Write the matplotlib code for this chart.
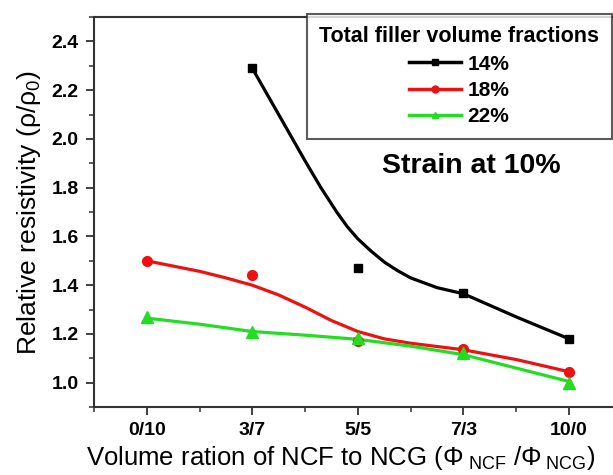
import matplotlib
matplotlib.use("Agg")
import matplotlib.pyplot as plt
from matplotlib.lines import Line2D
from matplotlib.ticker import MultipleLocator

plt.rcParams['font.family'] = ['Liberation Sans', 'DejaVu Sans']
plt.rcParams['mathtext.fontset'] = 'custom'
plt.rcParams['mathtext.rm'] = 'Liberation Sans'
plt.rcParams['mathtext.it'] = 'Liberation Sans:italic'
plt.rcParams['mathtext.bf'] = 'Liberation Sans:bold'

# categories (NCF/NCG volume ratio)
ratios = ['0/10', '3/7', '5/5', '7/3', '10/0']
pos = [0, 1, 2, 3, 4]

# measured points
pts_14 = [None, 2.29, 1.47, 1.37, 1.18]
pts_18 = [1.50, 1.44, 1.17, 1.14, 1.045]
pts_22 = [1.27, 1.21, 1.185, 1.12, 1.0]

# fitted curves
fit_x_14 = [1.0, 1.25, 1.5, 1.65, 1.8, 1.9, 2.0, 2.125, 2.25, 2.375, 2.5, 2.75, 3.0, 3.5, 4.0]
fit_y_14 = [2.29, 2.10, 1.91, 1.80, 1.70, 1.64, 1.59, 1.54, 1.495, 1.46, 1.43, 1.39, 1.365, 1.27, 1.18]
fit_x_18 = [0, 0.5, 0.75, 1.0, 1.25, 1.5, 1.75, 2.0, 2.25, 2.5, 3.0, 3.5, 4.0]
fit_y_18 = [1.50, 1.457, 1.43, 1.40, 1.36, 1.31, 1.255, 1.21, 1.18, 1.162, 1.135, 1.095, 1.045]
fit_x_22 = [0, 0.5, 1.0, 1.5, 2.0, 2.5, 3.0, 3.5, 4.0]
fit_y_22 = [1.265, 1.24, 1.21, 1.195, 1.178, 1.15, 1.115, 1.06, 1.005]

labels = ['14%', '18%', '22%']
colors = ['black', '#ee1111', '#22dd22']
markers = ['s', 'o', '^']

fig = plt.figure(figsize=(6.13, 4.75), dpi=100)
ax = fig.add_axes([0.1533, 0.143, 0.861, 0.821])

fits = [(fit_x_14, fit_y_14), (fit_x_18, fit_y_18), (fit_x_22, fit_y_22)]
pts = [pts_14, pts_18, pts_22]
msizes = [6, 7, 8]
for (fx, fy), p, c, m, ms in zip(fits, pts, colors, markers, msizes):
    ax.plot(fx, fy, color=c, lw=2.3, solid_capstyle='round',
            solid_joinstyle='round', zorder=2)
    xs = [x for x, v in zip(pos, p) if v is not None]
    ys = [v for v in p if v is not None]
    ax.plot(xs, ys, ls='none', marker=m, color=c, ms=ms, zorder=3)

ax.set_xlim(-0.5, 4.5)
ax.set_ylim(0.9, 2.5)
ax.set_xticks(pos)
ax.set_xticklabels(ratios)
ax.xaxis.set_minor_locator(MultipleLocator(0.5))
ax.yaxis.set_major_locator(MultipleLocator(0.2))
ax.yaxis.set_minor_locator(MultipleLocator(0.1))
ax.tick_params(which='major', direction='out', length=6, width=1.3, color='#333333',
               labelsize=14, pad=5)
ax.tick_params(which='minor', direction='out', length=3.5, width=1.1, color='#333333')
for lab in ax.get_xticklabels() + ax.get_yticklabels():
    lab.set_fontweight('bold')
for sp in ax.spines.values():
    sp.set_linewidth(1.5)
    sp.set_color('#333333')

ax.set_ylabel(r'Relative resistivity (ρ/ρ$_{0}$)', fontsize=19, labelpad=6)
ax.set_xlabel(r'Volume ration of NCF to NCG (Φ$_{\mathrm{\ NCF}}$ /Φ$_{\mathrm{\ NCG}}$)',
              fontsize=18.5)
ax.xaxis.set_label_coords(0.468, -0.095)

ax.text(3.07, 1.89, 'Strain at 10%', fontsize=20.5, fontweight='bold',
        ha='center', va='center')

handles = [Line2D([], [], color=c, lw=2.5, marker=m, ms=5)
           for c, m in zip(colors, markers)]
leg = fig.legend(handles, labels, loc='upper right', bbox_to_anchor=(0.998, 0.971),
                 title='Total filler volume fractions', frameon=True, fancybox=False,
                 borderaxespad=0, handlelength=2.5, handletextpad=0.3,
                 labelspacing=0.35, alignment='center', borderpad=0.6,
                 prop={'weight': 'bold', 'size': 15},
                 title_fontproperties={'weight': 'bold', 'size': 15.5})
leg.get_frame().set_edgecolor('#333333')
leg.get_frame().set_linewidth(1.5)

fig.savefig('out.png', dpi=100)
